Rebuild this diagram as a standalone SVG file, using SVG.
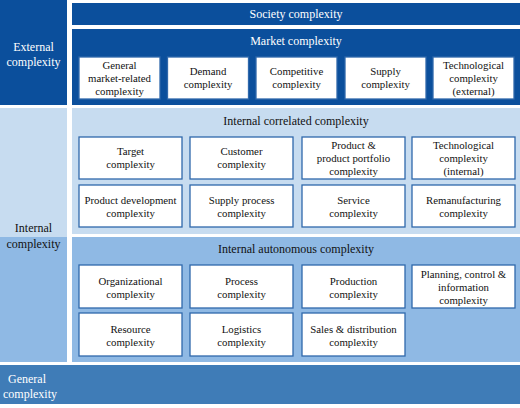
<svg xmlns="http://www.w3.org/2000/svg" width="520" height="408" viewBox="0 0 520 408" font-family="'Liberation Serif', 'DejaVu Serif', serif">
<style>
text{font-family:"Liberation Serif","DejaVu Serif",serif;text-anchor:middle}
.w{fill:#ffffff;font-size:12px}
.d{fill:#111111;font-size:10.8px}
.t{fill:#111111;font-size:12px}
.dark{fill:#0b4f9c}
.light{fill:#c7dcf0}
.med{fill:#8fb9e4}
.gen{fill:#3f7cb7}
.box{fill:#ffffff;stroke:#2f68ab;stroke-width:1.3}
</style>
<rect width="520" height="408" fill="#ffffff"/>
<g id="external">
<rect class="dark" x="0" y="0" width="67" height="105"/>
<text class="w" x="33.5" y="51">External</text>
<text class="w" x="33.5" y="66">complexity</text>
</g>
<g id="society">
<rect class="dark" x="72" y="3" width="448" height="22"/>
<text class="w" x="296" y="18">Society complexity</text>
</g>
<g id="market">
<rect class="dark" x="72" y="29" width="448" height="76"/>
<text class="w" x="296" y="45">Market complexity</text>
</g>
<g id="m1"><rect class="box" x="79" y="57" width="81" height="42"/><text class="d" x="119.5" y="69">General</text><text class="d" x="119.5" y="82">market-related</text><text class="d" x="119.5" y="95">complexity</text></g>
<g id="m2"><rect class="box" x="167.5" y="57" width="81" height="42"/><text class="d" x="208" y="75">Demand</text><text class="d" x="208" y="88">complexity</text></g>
<g id="m3"><rect class="box" x="256" y="57" width="81" height="42"/><text class="d" x="296.5" y="75">Competitive</text><text class="d" x="296.5" y="88">complexity</text></g>
<g id="m4"><rect class="box" x="345" y="57" width="81" height="42"/><text class="d" x="385.5" y="75">Supply</text><text class="d" x="385.5" y="88">complexity</text></g>
<g id="m5"><rect class="box" x="433" y="57" width="81" height="42"/><text class="d" x="473.5" y="69">Technological</text><text class="d" x="473.5" y="82">complexity</text><text class="d" x="473.5" y="95">(external)</text></g>
<g id="internal">
<rect class="light" x="0" y="108" width="67" height="129"/>
<rect class="med" x="0" y="237" width="67" height="125"/>
<text class="t" x="33.5" y="232">Internal</text>
<text class="t" x="33.5" y="248">complexity</text>
</g>
<g id="correlated">
<rect class="light" x="72" y="108" width="448" height="126"/>
<text class="t" x="296" y="125">Internal correlated complexity</text>
</g>
<g id="c1"><rect class="box" x="79" y="137" width="103" height="42"/><text class="d" x="130.5" y="155">Target</text><text class="d" x="130.5" y="168">complexity</text></g>
<g id="c2"><rect class="box" x="190" y="137" width="103" height="42"/><text class="d" x="241.5" y="155">Customer</text><text class="d" x="241.5" y="168">complexity</text></g>
<g id="c3"><rect class="box" x="302" y="137" width="103" height="42"/><text class="d" x="353.5" y="149">Product &amp;</text><text class="d" x="353.5" y="162">product portfolio</text><text class="d" x="353.5" y="175">complexity</text></g>
<g id="c4"><rect class="box" x="412" y="137" width="103" height="42"/><text class="d" x="463.5" y="149">Technological</text><text class="d" x="463.5" y="162">complexity</text><text class="d" x="463.5" y="175">(internal)</text></g>
<g id="c5"><rect class="box" x="79" y="185" width="103" height="42"/><text class="d" x="130.5" y="204">Product development</text><text class="d" x="130.5" y="217">complexity</text></g>
<g id="c6"><rect class="box" x="190" y="185" width="103" height="42"/><text class="d" x="241.5" y="204">Supply process</text><text class="d" x="241.5" y="217">complexity</text></g>
<g id="c7"><rect class="box" x="302" y="185" width="103" height="42"/><text class="d" x="353.5" y="204">Service</text><text class="d" x="353.5" y="217">complexity</text></g>
<g id="c8"><rect class="box" x="412" y="185" width="103" height="42"/><text class="d" x="463.5" y="204">Remanufacturing</text><text class="d" x="463.5" y="217">complexity</text></g>
<g id="autonomous">
<rect class="med" x="72" y="237" width="448" height="125"/>
<text class="t" x="296" y="253">Internal autonomous complexity</text>
</g>
<g id="a1"><rect class="box" x="79" y="265" width="103" height="43"/><text class="d" x="130.5" y="285">Organizational</text><text class="d" x="130.5" y="298">complexity</text></g>
<g id="a2"><rect class="box" x="190" y="265" width="103" height="43"/><text class="d" x="241.5" y="285">Process</text><text class="d" x="241.5" y="298">complexity</text></g>
<g id="a3"><rect class="box" x="302" y="265" width="103" height="43"/><text class="d" x="353.5" y="285">Production</text><text class="d" x="353.5" y="298">complexity</text></g>
<g id="a4"><rect class="box" x="412" y="265" width="103" height="43"/><text class="d" x="463.5" y="278">Planning, control &amp;</text><text class="d" x="463.5" y="291">information</text><text class="d" x="463.5" y="304">complexity</text></g>
<g id="a5"><rect class="box" x="79" y="313" width="103" height="43"/><text class="d" x="130.5" y="333">Resource</text><text class="d" x="130.5" y="346">complexity</text></g>
<g id="a6"><rect class="box" x="190" y="313" width="103" height="43"/><text class="d" x="241.5" y="333">Logistics</text><text class="d" x="241.5" y="346">complexity</text></g>
<g id="a7"><rect class="box" x="302" y="313" width="103" height="43"/><text class="d" x="353.5" y="333">Sales &amp; distribution</text><text class="d" x="353.5" y="346">complexity</text></g>
<g id="general">
<rect class="gen" x="0" y="365" width="520" height="39"/>
<text class="w" x="27" y="383">General</text>
<text class="w" x="30" y="398">complexity</text>
</g>
<g id="connectors"></g>
</svg>
